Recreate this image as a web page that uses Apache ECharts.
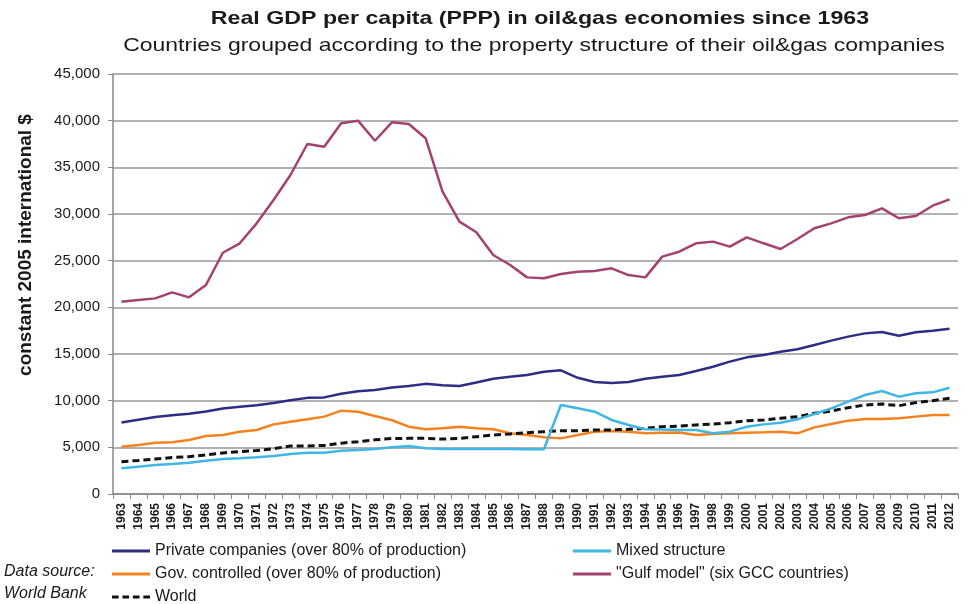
<!DOCTYPE html>
<html>
<head>
<meta charset="utf-8">
<script src="https://cdn.jsdelivr.net/npm/echarts@6/dist/echarts.min.js"></script>
<style>html,body{margin:0;padding:0;background:#fff}#c{width:967px;height:604px}</style>
</head>
<body>
<div id="c"></div>
<script>
var years = [];
for (var y = 1963; y <= 2012; y++) years.push(String(y));

var privateCo = [7650,7950,8250,8450,8600,8850,9150,9350,9500,9750,10050,10300,10350,10750,11000,11150,11400,
  11570,11800,11650,11570,11950,12350,12550,12750,13100,13250,12450,12000,11900,12000,12350,12550,12750,
  13180,13640,14180,14640,14890,15250,15500,15960,16430,16860,17210,17360,16960,17320,17500,17710];
var govCtrl = [5070,5250,5500,5540,5790,6210,6320,6680,6860,7460,7750,8000,8290,8930,8820,8360,7900,
  7210,6930,7040,7210,7040,6930,6500,6320,6070,5960,6320,6680,6750,6680,6500,6570,6600,
  6320,6430,6500,6570,6610,6680,6500,7140,7500,7860,8040,8040,8110,8290,8460,8460];
var mixed = [2750,2930,3110,3210,3360,3570,3750,3820,3930,4070,4290,4430,4430,4640,4710,4820,5000,
  5140,4890,4820,4820,4820,4820,4820,4800,4800,9540,9180,8820,7930,7390,6930,6900,6860,
  6860,6500,6680,7210,7460,7640,8000,8570,9180,9890,10610,11040,10430,10790,10890,11390];
var gulf = [20600,20780,20960,21600,21070,22390,25850,26860,29000,31500,34180,37500,37210,39720,40000,37850,39820,
  39640,38110,32390,29180,28040,25610,24540,23210,23110,23570,23820,23890,24180,23460,23210,25430,25960,
  26860,27040,26500,27500,26860,26250,27320,28470,29000,29640,29890,30610,29540,29790,30890,31570];
var world = [3460,3600,3750,3900,4000,4200,4400,4550,4650,4850,5150,5150,5200,5450,5600,5800,5950,
  5960,5960,5890,5960,6140,6320,6430,6570,6680,6790,6790,6860,6860,6930,7040,7210,7280,
  7390,7500,7640,7860,7930,8110,8290,8640,8890,9250,9540,9640,9460,9790,10000,10250];

var names = {
  p: 'Private companies (over 80% of production)',
  g: 'Gov. controlled (over 80% of production)',
  w: 'World',
  m: 'Mixed structure',
  f: '"Gulf model" (six GCC countries)'
};

var FONT = '"Liberation Sans", Arial, sans-serif';
var TXT = '#1a1a1a';
var chart = echarts.init(document.getElementById('c'), null, {renderer: 'canvas'});

function ser(name, data, color, dashed) {
  return {
    name: name, type: 'line', data: data, symbol: 'none', smooth: false,
    lineStyle: {color: color, width: dashed ? 3 : 2.5, type: dashed ? [7, 4] : 'solid'},
    itemStyle: {color: color},
    emphasis: {disabled: true}
  };
}

var solidIcon = 'path://M0,0L40,0L40,3L0,3Z';
var dashIcon = 'path://M0,0L7,0L7,3L0,3Z M11,0L18,0L18,3L11,3Z M22,0L29,0L29,3L22,3Z M33,0L40,0L40,3L33,3Z';
var legendText = {fontFamily: FONT, fontSize: 16, color: TXT};

function legendBox(items, left, top) {
  return {data: items, orient: 'vertical', left: left, top: top, itemGap: 7, itemWidth: 38, itemHeight: 3,
    padding: 0, textStyle: legendText, selectedMode: false};
}

chart.setOption({
  animation: false,
  backgroundColor: '#fff',
  graphic: [
    {type: 'text', x: 540, y: 19, scaleX: 1.22, style: {text: 'Real GDP per capita (PPP) in oil&gas economies since 1963',
      font: 'bold 19px ' + FONT, fill: TXT, textAlign: 'center', textVerticalAlign: 'middle'}},
    {type: 'text', x: 534, y: 46, scaleX: 1.21, style: {text: 'Countries grouped according to the property structure of their oil&gas companies',
      font: '19px ' + FONT, fill: TXT, textAlign: 'center', textVerticalAlign: 'middle'}},
    {type: 'text', x: 26, y: 245, rotation: Math.PI / 2, style: {text: 'constant 2005 international $',
      font: 'bold 19px ' + FONT, fill: TXT, textAlign: 'center', textVerticalAlign: 'middle'}},
    {type: 'text', x: 4, y: 572, style: {text: 'Data source:', font: 'italic 16px ' + FONT, fill: TXT, textVerticalAlign: 'middle'}},
    {type: 'text', x: 4, y: 594, style: {text: 'World Bank', font: 'italic 16px ' + FONT, fill: TXT, textVerticalAlign: 'middle'}}
  ],
  grid: {left: 113, right: 9, top: 74, bottom: 110, containLabel: false},
  legend: [
    legendBox([{name: names.p, icon: solidIcon}, {name: names.g, icon: solidIcon}], 112, 543),
    legendBox([{name: names.w, icon: dashIcon}], 112, 589),
    legendBox([{name: names.m, icon: solidIcon}, {name: names.f, icon: solidIcon}], 573, 543)
  ],
  xAxis: {
    type: 'category', data: years, boundaryGap: true,
    axisLine: {lineStyle: {color: '#888', width: 1.5}},
    axisTick: {show: true, length: 5, lineStyle: {color: '#888'}},
    axisLabel: {rotate: 90, interval: 0, fontFamily: FONT, fontSize: 12, fontWeight: 'bold', color: TXT, margin: 9}
  },
  yAxis: {
    type: 'value', min: 0, max: 45000, interval: 5000,
    axisLine: {show: true, lineStyle: {color: '#888', width: 1.5}},
    axisTick: {show: true, length: 5, lineStyle: {color: '#888'}},
    splitLine: {lineStyle: {color: '#999', width: 1.5}},
    axisLabel: {fontFamily: FONT, fontSize: 15, color: TXT, margin: 13,
      formatter: function (v) { return v.toLocaleString('en-US'); }}
  },
  series: [
    ser(names.p, privateCo, '#2e2d84', false),
    ser(names.g, govCtrl, '#f5821f', false),
    ser(names.w, world, '#111111', true),
    ser(names.m, mixed, '#3fb6e3', false),
    ser(names.f, gulf, '#a3426f', false)
  ]
});
</script>
</body>
</html>
